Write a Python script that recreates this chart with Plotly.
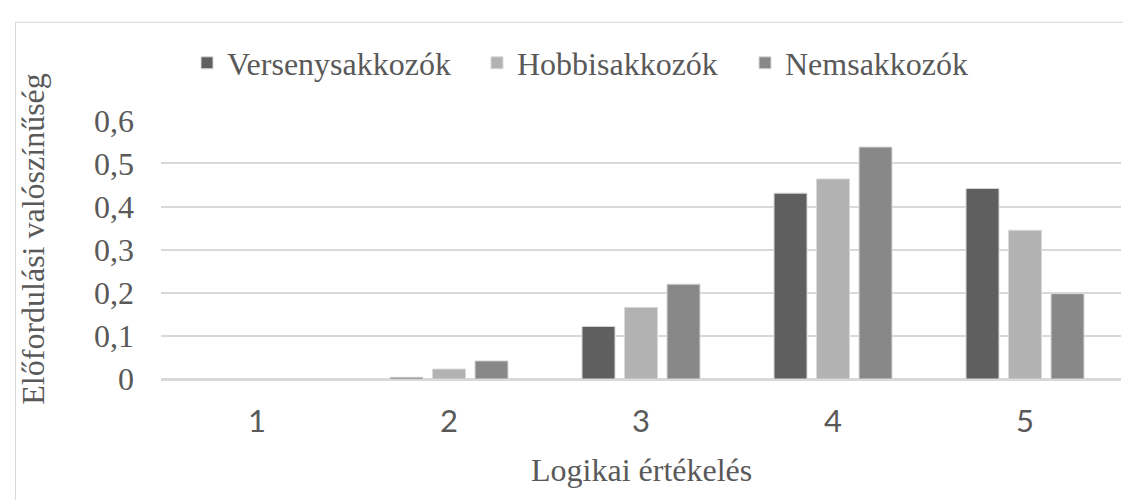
import plotly.graph_objects as go

categories = ["1", "2", "3", "4", "5"]
verseny = [0.0, 0.004, 0.122, 0.431, 0.442]
hobbi = [0.0, 0.023, 0.166, 0.464, 0.345]
nem = [0.0, 0.042, 0.220, 0.538, 0.198]
series_names = ["Versenysakkozók", "Hobbisakkozók", "Nemsakkozók"]
series_colors = ["#5f5f5f", "#b2b2b2", "#888888"]
y_ticks = [0, 0.1, 0.2, 0.3, 0.4, 0.5, 0.6]
x_title = "Logikai értékelés"
y_title = "Előfordulási valószínűség"

W, H = 1131, 500
L, R, T, B = 153, 18, 111, 129
pw, ph = W - L - R, H - T - B

def px_x(p):
    return (p - L) / pw

def px_y(p):
    return (H - B - p) / ph

serif = "Liberation Serif, Times New Roman, serif"
text_col = "#595959"

legend_ids = ["legend", "legend2", "legend3"]
legend_left = [179, 469, 737]

fig = go.Figure()
for name, vals, col, lid in zip(series_names, [verseny, hobbi, nem], series_colors, legend_ids):
    fig.add_trace(go.Bar(
        x=categories, y=vals, name=name, legend=lid,
        marker=dict(color=col, line=dict(color="#d9d9d9", width=1)),
    ))

legend_layout = {}
for lid, lx in zip(legend_ids, legend_left):
    legend_layout[lid] = dict(
        orientation="h", xref="container", yref="container",
        x=lx / W, y=1 - 55 / H, xanchor="left", yanchor="middle",
        font=dict(family=serif, size=32, color=text_col),
        bgcolor="rgba(0,0,0,0)", itemwidth=30,
    )

fig.update_layout(
    width=W, height=H,
    margin=dict(l=L, r=R, t=T, b=B),
    paper_bgcolor="white", plot_bgcolor="white",
    separators=", ",
    barmode="group", bargap=0.336, bargroupgap=0.2235,
    showlegend=True,
    xaxis=dict(
        type="category", showgrid=False, showline=True, linecolor="#d9d9d9", linewidth=1.5,
        ticks="", tickfont=dict(family="Lato, Open Sans, sans-serif", size=31, color=text_col),
        ticklabelstandoff=14,
    ),
    yaxis=dict(
        range=[0, 0.6], tickvals=y_ticks, showgrid=True, gridcolor="#d9d9d9", gridwidth=1.5,
        zeroline=True, zerolinecolor="#d9d9d9", zerolinewidth=1.5, showline=False, ticks="",
        tickfont=dict(family=serif, size=32, color=text_col), ticklabelstandoff=26,
    ),
    annotations=[
        dict(text=x_title, xref="paper", yref="paper", x=px_x((L + W - R) / 2), y=px_y(462),
             xanchor="center", yanchor="middle", showarrow=False,
             font=dict(family=serif, size=32, color=text_col)),
        dict(text=y_title, xref="paper", yref="paper", x=px_x(25), y=px_y(231),
             xanchor="center", yanchor="middle", textangle=-90, showarrow=False,
             font=dict(family=serif, size=32, color=text_col)),
    ],
    shapes=[
        dict(type="rect", xref="paper", yref="paper",
             x0=px_x(7.5), x1=px_x(1132), y0=px_y(503), y1=px_y(12.5),
             line=dict(color="#d9d9d9", width=1), fillcolor="rgba(0,0,0,0)", layer="below"),
    ],
    **legend_layout,
)

fig.write_html("out.html")
